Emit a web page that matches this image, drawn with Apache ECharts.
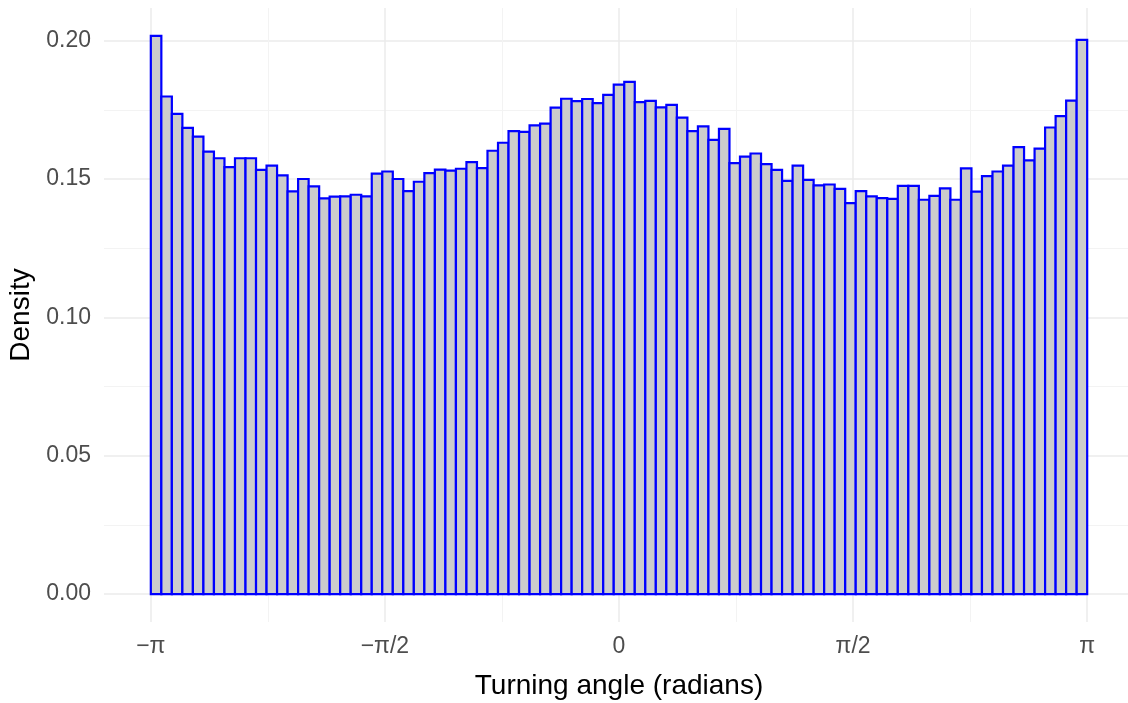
<!DOCTYPE html>
<html>
<head>
<meta charset="utf-8">
<script src="https://cdn.jsdelivr.net/npm/echarts@6.0.0/dist/echarts.min.js"></script>
<style>
  html, body { margin: 0; padding: 0; background: #ffffff; }
  #chart { width: 1128px; height: 703px; }
</style>
</head>
<body>
<div id="chart"></div>
<script>
// ---- Data ----
const binCount = 89;               // histogram bins from -pi to pi
const angleMin = -Math.PI;
const angleMax = Math.PI;
const density = [
  0.2017, 0.1798, 0.1735, 0.1685, 0.1653, 0.1599, 0.1575, 0.1543, 0.1575, 0.1575,
  0.1533, 0.1548, 0.1513, 0.1455, 0.1500, 0.1473, 0.1430, 0.1436, 0.1437, 0.1443,
  0.1437, 0.1519, 0.1527, 0.1500, 0.1456, 0.1490, 0.1521, 0.1534, 0.1530, 0.1537,
  0.1561, 0.1539, 0.1602, 0.1631, 0.1673, 0.1670, 0.1694, 0.1700, 0.1758, 0.1790,
  0.1781, 0.1789, 0.1774, 0.1804, 0.1841, 0.1851, 0.1778, 0.1782, 0.1759, 0.1768,
  0.1722, 0.1673, 0.1690, 0.1641, 0.1681, 0.1557, 0.1581, 0.1592, 0.1554, 0.1533,
  0.1493, 0.1548, 0.1497, 0.1477, 0.1480, 0.1464, 0.1413, 0.1456, 0.1437, 0.1431,
  0.1428, 0.1475, 0.1475, 0.1425, 0.1439, 0.1466, 0.1425, 0.1538, 0.1454, 0.1510,
  0.1527, 0.1548, 0.1615, 0.1567, 0.1610, 0.1686, 0.1727, 0.1783, 0.2003
];
const xMajorTicks = [-Math.PI, -Math.PI / 2, 0, Math.PI / 2, Math.PI];
const xTickLabels = ['\u2212\u03c0', '\u2212\u03c0/2', '0', '\u03c0/2', '\u03c0'];
const xMinorTicks = [-3 * Math.PI / 4, -Math.PI / 4, Math.PI / 4, 3 * Math.PI / 4];
const yMajorTicks = [0, 0.05, 0.10, 0.15, 0.20];
const yTickLabels = ['0.00', '0.05', '0.10', '0.15', '0.20'];
const yMinorTicks = [0.025, 0.075, 0.125, 0.175];
const xTitle = 'Turning angle (radians)';
const yTitle = 'Density';

// ---- Derived (ggplot-like 5% expansion) ----
const binWidth = (angleMax - angleMin) / binCount;
const histData = density.map((d, i) => [angleMin + i * binWidth, angleMin + (i + 1) * binWidth, d]);
const xSpan = angleMax - angleMin;
const xLo = angleMin - 0.05 * xSpan, xHi = angleMax + 0.05 * xSpan;
const yTop = Math.max(...density);
const yLo = -0.05 * yTop, yHi = yTop * 1.05;

const tickFont = { color: '#4D4D4D', fontSize: 23, fontFamily: 'Liberation Sans, Arial, sans-serif' };
const titleFont = { color: '#000000', fontSize: 28, fontFamily: 'Liberation Sans, Arial, sans-serif' };

function nearestLabel(v, ticks, labels) {
  let best = 0, bd = Infinity;
  ticks.forEach((t, i) => { const d = Math.abs(t - v); if (d < bd) { bd = d; best = i; } });
  return labels[best];
}

const chart = echarts.init(document.getElementById('chart'), null, { renderer: 'canvas' });
chart.setOption({
  backgroundColor: '#ffffff',
  animation: false,
  grid: { left: 104, width: 1030, top: 8, bottom: 81, outerBoundsMode: 'none', containLabel: false },
  xAxis: [
    {
      type: 'value', min: xLo, max: xHi, position: 'bottom',
      axisLine: { show: false },
      axisTick: { show: false, customValues: xMajorTicks },
      axisLabel: Object.assign({ customValues: xMajorTicks, margin: 13,
        formatter: v => nearestLabel(v, xMajorTicks, xTickLabels) }, tickFont),
      splitLine: { show: true, lineStyle: { color: '#EBEBEB', width: 1.5 } },
      name: xTitle, nameLocation: 'middle', nameGap: 50, nameTextStyle: titleFont
    },
    {
      type: 'value', min: xLo, max: xHi, position: 'top',
      axisLine: { show: false },
      axisTick: { show: false, customValues: xMinorTicks },
      axisLabel: { show: false, customValues: xMinorTicks },
      splitLine: { show: true, lineStyle: { color: '#F3F3F3', width: 1 } }
    }
  ],
  yAxis: [
    {
      type: 'value', min: yLo, max: yHi, position: 'left',
      axisLine: { show: false },
      axisTick: { show: false, customValues: yMajorTicks },
      axisLabel: Object.assign({ customValues: yMajorTicks, margin: 13,
        formatter: v => nearestLabel(v, yMajorTicks, yTickLabels) }, tickFont),
      splitLine: { show: true, lineStyle: { color: '#EBEBEB', width: 1.5 } },
      name: yTitle, nameLocation: 'middle', nameGap: 68, nameTextStyle: titleFont
    },
    {
      type: 'value', min: yLo, max: yHi, position: 'right',
      axisLine: { show: false },
      axisTick: { show: false, customValues: yMinorTicks },
      axisLabel: { show: false, customValues: yMinorTicks },
      splitLine: { show: true, lineStyle: { color: '#F3F3F3', width: 1 } }
    }
  ],
  series: [{
    type: 'custom',
    xAxisIndex: 0, yAxisIndex: 0,
    encode: { x: [0, 1], y: 2 },
    data: histData,
    renderItem: function (params, api) {
      const p0 = api.coord([api.value(0), api.value(2)]);
      const p1 = api.coord([api.value(1), 0]);
      return {
        type: 'rect',
        shape: { x: p0[0], y: p0[1], width: p1[0] - p0[0], height: p1[1] - p0[1] },
        style: { fill: '#CCCCCC', stroke: '#0000FF', lineWidth: 2.2 }
      };
    }
  }]
});
</script>
</body>
</html>
